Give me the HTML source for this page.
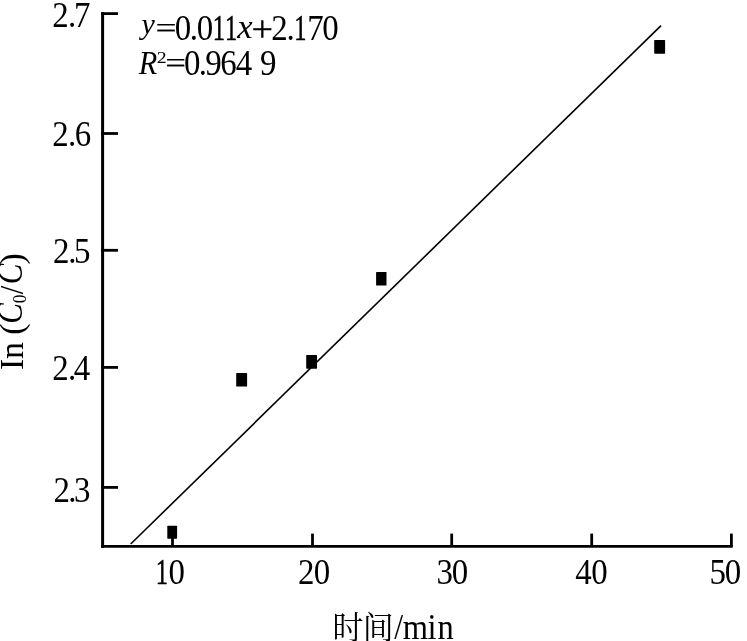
<!DOCTYPE html>
<html><head><meta charset="utf-8"><style>
html,body{margin:0;padding:0;background:#fff;width:747px;height:641px;overflow:hidden}
svg{display:block;will-change:transform}
text{fill:#000;white-space:pre}
.s{font-family:"Liberation Serif",serif}
.c{font-family:"Liberation Serif","Noto Serif CJK SC",serif}
</style></head><body>
<svg width="747" height="641" viewBox="0 0 747 641">
<line x1="102.6" y1="12.2" x2="102.6" y2="547.7" stroke="#000" stroke-width="3"/>
<line x1="101.1" y1="546.4" x2="732.8" y2="546.4" stroke="#000" stroke-width="2.6"/>
<line x1="101.1" y1="13.6" x2="118" y2="13.6" stroke="#000" stroke-width="2.8"/>
<line x1="101.1" y1="133.5" x2="118" y2="133.5" stroke="#000" stroke-width="2.8"/>
<line x1="101.1" y1="250.3" x2="118" y2="250.3" stroke="#000" stroke-width="2.8"/>
<line x1="101.1" y1="367.4" x2="118" y2="367.4" stroke="#000" stroke-width="2.8"/>
<line x1="101.1" y1="487.4" x2="118" y2="487.4" stroke="#000" stroke-width="2.8"/>
<line x1="172.5" y1="533.6" x2="172.5" y2="546" stroke="#000" stroke-width="2.8"/>
<line x1="312.5" y1="533.6" x2="312.5" y2="546" stroke="#000" stroke-width="2.8"/>
<line x1="451.7" y1="533.6" x2="451.7" y2="546" stroke="#000" stroke-width="2.8"/>
<line x1="591.7" y1="533.6" x2="591.7" y2="546" stroke="#000" stroke-width="2.8"/>
<line x1="731.4" y1="533.6" x2="731.4" y2="546" stroke="#000" stroke-width="2.8"/>
<line x1="130.7" y1="544.0" x2="661.0" y2="25.6" stroke="#000" stroke-width="1.6"/>
<rect x="167.30" y="525.80" width="9.80" height="12.90" rx="0.6" fill="#000"/>
<rect x="236.20" y="373.10" width="10.90" height="13.40" rx="0.6" fill="#000"/>
<rect x="306.20" y="355.00" width="10.80" height="13.70" rx="0.6" fill="#000"/>
<rect x="376.10" y="271.90" width="10.40" height="13.70" rx="0.6" fill="#000"/>
<rect x="654.20" y="39.90" width="10.90" height="13.80" rx="0.6" fill="#000"/>
<text class="s" font-size="35"><tspan x="52.25" y="27.10" textLength="16.45" lengthAdjust="spacingAndGlyphs">2</tspan><tspan x="67.93" y="27.10" textLength="8.22" lengthAdjust="spacingAndGlyphs">.</tspan><tspan x="73.90" y="27.10" textLength="16.45" lengthAdjust="spacingAndGlyphs">7</tspan></text>
<text class="s" font-size="35"><tspan x="52.35" y="146.00" textLength="16.45" lengthAdjust="spacingAndGlyphs">2</tspan><tspan x="67.93" y="146.00" textLength="8.22" lengthAdjust="spacingAndGlyphs">.</tspan><tspan x="74.73" y="146.00" textLength="16.45" lengthAdjust="spacingAndGlyphs">6</tspan></text>
<text class="s" font-size="35"><tspan x="53.05" y="263.20" textLength="16.45" lengthAdjust="spacingAndGlyphs">2</tspan><tspan x="68.13" y="263.20" textLength="8.22" lengthAdjust="spacingAndGlyphs">.</tspan><tspan x="74.04" y="263.20" textLength="16.45" lengthAdjust="spacingAndGlyphs">5</tspan></text>
<text class="s" font-size="35"><tspan x="52.25" y="380.20" textLength="16.45" lengthAdjust="spacingAndGlyphs">2</tspan><tspan x="67.93" y="380.20" textLength="8.22" lengthAdjust="spacingAndGlyphs">.</tspan><tspan x="73.86" y="380.20" textLength="16.45" lengthAdjust="spacingAndGlyphs">4</tspan></text>
<text class="s" font-size="35"><tspan x="53.45" y="502.20" textLength="16.45" lengthAdjust="spacingAndGlyphs">2</tspan><tspan x="68.33" y="502.20" textLength="8.22" lengthAdjust="spacingAndGlyphs">.</tspan><tspan x="74.04" y="502.20" textLength="16.45" lengthAdjust="spacingAndGlyphs">3</tspan></text>
<text class="s" font-size="35"><tspan x="155.85" y="584.00" textLength="12.25" lengthAdjust="spacingAndGlyphs" stroke="#000" stroke-width="0.5">1</tspan><tspan x="168.45" y="584.00" textLength="16.45" lengthAdjust="spacingAndGlyphs">0</tspan></text>
<text class="s" font-size="35"><tspan x="297.95" y="584.00" textLength="16.45" lengthAdjust="spacingAndGlyphs">2</tspan><tspan x="313.85" y="584.00" textLength="16.45" lengthAdjust="spacingAndGlyphs">0</tspan></text>
<text class="s" font-size="35"><tspan x="436.43" y="584.00" textLength="16.45" lengthAdjust="spacingAndGlyphs">3</tspan><tspan x="451.85" y="584.00" textLength="16.45" lengthAdjust="spacingAndGlyphs">0</tspan></text>
<text class="s" font-size="35"><tspan x="575.36" y="584.00" textLength="16.45" lengthAdjust="spacingAndGlyphs">4</tspan><tspan x="591.15" y="584.00" textLength="16.45" lengthAdjust="spacingAndGlyphs">0</tspan></text>
<text class="s" font-size="35"><tspan x="709.39" y="584.00" textLength="16.45" lengthAdjust="spacingAndGlyphs">5</tspan><tspan x="724.85" y="584.00" textLength="16.45" lengthAdjust="spacingAndGlyphs">0</tspan></text>
<text class="s" font-size="35"><tspan x="141.50" y="33.62" font-size="30" font-style="italic">y</tspan><tspan x="155.53" y="37.58" font-size="29.75" textLength="21.12" lengthAdjust="spacingAndGlyphs" stroke="#000" stroke-width="0.15">=</tspan><tspan x="174.85" y="40.40" textLength="16.45" lengthAdjust="spacingAndGlyphs">0</tspan><tspan x="189.83" y="40.40" textLength="8.22" lengthAdjust="spacingAndGlyphs">.</tspan><tspan x="196.85" y="40.40" textLength="16.45" lengthAdjust="spacingAndGlyphs">0</tspan><tspan x="212.85" y="40.40" textLength="12.25" lengthAdjust="spacingAndGlyphs" stroke="#000" stroke-width="0.5">1</tspan><tspan x="225.05" y="40.40" textLength="12.25" lengthAdjust="spacingAndGlyphs" stroke="#000" stroke-width="0.5">1</tspan><tspan x="237.32" y="38.40" font-size="33" font-style="italic" textLength="15.38" lengthAdjust="spacingAndGlyphs">x</tspan><tspan x="251.60" y="40.77" textLength="21.52" lengthAdjust="spacingAndGlyphs" stroke="#000" stroke-width="0.3">+</tspan><tspan x="271.15" y="40.40" textLength="16.45" lengthAdjust="spacingAndGlyphs">2</tspan><tspan x="286.53" y="40.40" textLength="8.22" lengthAdjust="spacingAndGlyphs">.</tspan><tspan x="294.25" y="40.40" textLength="12.25" lengthAdjust="spacingAndGlyphs" stroke="#000" stroke-width="0.5">1</tspan><tspan x="307.23" y="40.40" textLength="16.45" lengthAdjust="spacingAndGlyphs">7</tspan><tspan x="322.15" y="40.40" textLength="16.45" lengthAdjust="spacingAndGlyphs">0</tspan></text>
<text class="s" font-size="35"><tspan x="138.66" y="73.90" font-size="33" font-style="italic" textLength="18.55" lengthAdjust="spacingAndGlyphs">R</tspan><tspan x="156.73" y="63.10" font-size="16.5" textLength="9.90" lengthAdjust="spacingAndGlyphs">2</tspan><tspan x="165.17" y="72.63" font-size="29.75" textLength="20.73" lengthAdjust="spacingAndGlyphs" stroke="#000" stroke-width="0.15">=</tspan><tspan x="183.95" y="74.90" textLength="16.45" lengthAdjust="spacingAndGlyphs">0</tspan><tspan x="198.73" y="74.90" textLength="8.22" lengthAdjust="spacingAndGlyphs">.</tspan><tspan x="205.34" y="74.90" textLength="16.45" lengthAdjust="spacingAndGlyphs">9</tspan><tspan x="220.29" y="74.90" textLength="16.45" lengthAdjust="spacingAndGlyphs">6</tspan><tspan x="235.86" y="74.90" textLength="16.45" lengthAdjust="spacingAndGlyphs">4</tspan> <tspan x="259.94" y="74.90" textLength="16.45" lengthAdjust="spacingAndGlyphs">9</tspan></text>
<text class="c" font-size="36.5"><tspan x="332.47" y="638.60" font-size="31.5" font-style="normal" textLength="30.87" lengthAdjust="spacingAndGlyphs">时</tspan><tspan x="362.65" y="638.60" font-size="31.5" font-style="normal" textLength="30.87" lengthAdjust="spacingAndGlyphs">间</tspan><tspan x="394.30" y="638.60" font-size="35.3" textLength="8.83" lengthAdjust="spacingAndGlyphs">/</tspan><tspan x="402.82" y="638.60" textLength="25.27" lengthAdjust="spacingAndGlyphs">m</tspan><tspan x="427.42" y="638.60" textLength="9.03" lengthAdjust="spacingAndGlyphs">i</tspan><tspan x="437.45" y="638.60" textLength="16.24" lengthAdjust="spacingAndGlyphs">n</tspan></text>
<text class="s" font-size="34" transform="translate(22.8,368.8) rotate(-90)"><tspan x="-1.23" y="0.00">I</tspan><tspan x="9.92" y="0.00">n</tspan> <tspan x="34.01" y="0.00">(</tspan><tspan x="45.08" y="-0.90" font-size="36" font-style="italic" textLength="20.65" lengthAdjust="spacingAndGlyphs">C</tspan><tspan x="65.64" y="2.70" font-size="19" textLength="8.64" lengthAdjust="spacingAndGlyphs">0</tspan><tspan x="74.50" y="0.00" textLength="8.50" lengthAdjust="spacingAndGlyphs">/</tspan><tspan x="84.58" y="-0.90" font-size="36" font-style="italic" textLength="20.65" lengthAdjust="spacingAndGlyphs">C</tspan><tspan x="104.40" y="0.00">)</tspan></text>
</svg>
</body></html>
